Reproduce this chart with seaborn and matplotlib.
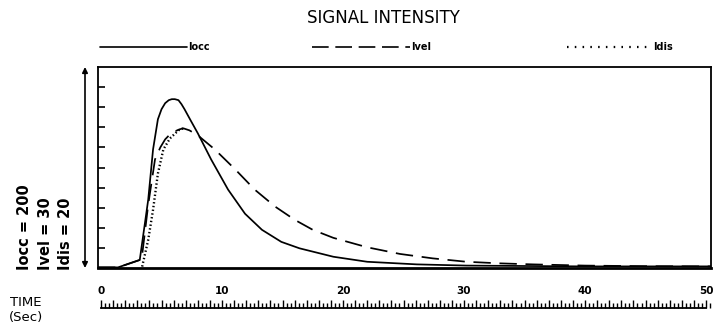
import matplotlib
matplotlib.use("Agg")
import matplotlib.pyplot as plt
from matplotlib.lines import Line2D
from matplotlib.ticker import MultipleLocator, FuncFormatter
import numpy as np
import pandas as pd
import seaborn as sns

# ---- data ----
time_occ = [-0.25, 1.4, 3.2, 3.9, 4.3, 4.7, 5.0, 5.3, 5.6, 5.85, 6.1, 6.4, 6.65, 6.9,
            7.4, 8.0, 9.1, 10.5, 11.9, 13.3, 14.9, 16.4, 19.2, 22.0, 26.1, 30.2, 35.0,
            40.0, 50.4]
iocc = [0.03, 0.03, 0.4, 3.4, 5.9, 7.4, 7.9, 8.2, 8.35, 8.4, 8.4, 8.35, 8.15, 7.9,
        7.35, 6.7, 5.4, 3.9, 2.7, 1.9, 1.3, 0.98, 0.56, 0.31, 0.18, 0.12, 0.1,
        0.08, 0.08]

time_vel = [-0.25, 1.4, 3.2, 3.35, 3.9, 4.46, 4.9, 5.3, 5.7, 6.1, 6.5, 6.8, 7.3,
            8.0, 9.4, 11.1, 12.7, 14.4, 16.0, 17.5, 19.2, 22.0, 24.7, 27.4, 30.2,
            33.0, 35.7, 40.0, 45.0, 50.4]
ivel = [0.03, 0.03, 0.4, 0.4, 3.15, 5.4, 6.0, 6.4, 6.65, 6.8, 6.9, 6.95, 6.85,
        6.6, 5.9, 4.9, 3.9, 3.05, 2.4, 1.9, 1.5, 1.03, 0.7, 0.48, 0.31,
        0.23, 0.18, 0.12, 0.09, 0.08]

time_dis = [3.4, 3.9, 4.3, 4.7, 5.15, 5.7, 6.4, 6.8]
idis = [0.07, 1.4, 2.9, 4.7, 5.9, 6.45, 6.85, 6.95]

series_names = ["Iocc", "Ivel", "Idis"]
series_scales = ["Iocc = 200", "Ivel = 30", "Idis = 20"]
time_ticks = [0, 10, 20, 30, 40, 50]
y_ticks = [1, 2, 3, 4, 5, 6, 7, 8, 9]

# ---- style ----
sns.set_style("white")
plt.rcParams["font.family"] = ["DejaVu Sans"]
plt.rcParams["text.color"] = "black"
plt.rcParams["xtick.color"] = "black"
plt.rcParams["ytick.color"] = "black"
plt.rcParams["axes.edgecolor"] = "black"

fig = plt.figure(figsize=(7.14, 3.28), dpi=100)
ax = fig.add_axes([98 / 714, 1 - 268 / 328, 613 / 714, 201 / 328])

df_occ = pd.DataFrame({"t": time_occ, "v": iocc})
df_vel = pd.DataFrame({"t": time_vel, "v": ivel})
df_dis = pd.DataFrame({"t": time_dis, "v": idis})

sns.lineplot(data=df_dis, x="t", y="v", ax=ax, color="black", lw=1.7,
             linestyle=(0, (0.6, 1.0)), sort=False)
sns.lineplot(data=df_vel, x="t", y="v", ax=ax, color="black", lw=1.25,
             linestyle=(0, (10, 5)), sort=False)
sns.lineplot(data=df_occ, x="t", y="v", ax=ax, color="black", lw=1.25, sort=False)

ax.set_xlim(-0.25, 50.41)
ax.set_ylim(0, 10)
ax.set_xticks([])
ax.set_yticks(y_ticks)
ax.set_yticklabels([])
ax.tick_params(axis="y", direction="in", length=5, width=1.2, left=True, color="black")
ax.set_xlabel("")
ax.set_ylabel("")
for s in ax.spines.values():
    s.set_visible(True)
    s.set_color("black")
    s.set_linewidth(1.3)
ax.spines["bottom"].set_linewidth(2.0)

# double arrow on the left
ax.annotate("", xy=(-13 / 613, 1.0), xytext=(-13 / 613, 0.0),
            xycoords="axes fraction", textcoords="axes fraction",
            arrowprops=dict(arrowstyle="<|-|>", color="black", lw=1.2,
                            mutation_scale=8, shrinkA=0, shrinkB=0),
            annotation_clip=False)

# rotated scale texts
for xpx, txt in zip([25, 45, 65], series_scales):
    fig.text(xpx / 714, 1 - 270 / 328, txt, rotation=90, ha="center", va="bottom",
             fontsize=10.5, fontweight="bold")

# title
fig.text(383 / 714, 1 - 18 / 328, "SIGNAL INTENSITY", ha="center", va="center",
         fontsize=12)

# legend drawn above the plot
ly = 1 - 47 / 328
leg_specs = [((100, 187), "-", 1.2, 188),
             ((312, 410), (0, (10, 4)), 1.2, 411),
             ((567, 652), (0, (0.7, 2.8)), 1.6, 653)]
for ((x0, x1), ls, lw, tx), name in zip(leg_specs, series_names):
    fig.add_artist(Line2D([x0 / 714, x1 / 714], [ly, ly], transform=fig.transFigure,
                          color="black", lw=lw, linestyle=ls))
    fig.text(tx / 714, ly, name, ha="left", va="center", fontsize=7, fontweight="bold")

# time ruler
rax = fig.add_axes([98 / 714, 1 - 308 / 328, 613 / 714, 9 / 328])
rax.set_xlim(-0.25, 50.41)
rax.set_ylim(0, 1)
rax.set_facecolor("none")
for k, s in rax.spines.items():
    s.set_visible(k == "bottom")
rax.spines["bottom"].set_bounds(0, 50)
rax.spines["bottom"].set_linewidth(1.3)
rax.spines["bottom"].set_color("black")
rax.set_yticks([])
rax.xaxis.set_major_locator(MultipleLocator(1))
rax.xaxis.set_minor_locator(MultipleLocator(1 / 3))
rax.xaxis.set_major_formatter(FuncFormatter(
    lambda v, p: f"{int(round(v))}" if int(round(v)) in time_ticks else ""))
rax.tick_params(axis="x", which="major", direction="in", length=6, width=1.0,
                bottom=True, top=False, labelbottom=False, labeltop=True,
                pad=2, labelsize=7.5, color="black")
rax.tick_params(axis="x", which="minor", direction="in", length=3.5, width=1.0,
                bottom=True, top=False, color="black")
for lab in rax.get_xticklabels():
    lab.set_fontweight("bold")

fig.text(10 / 714, 1 - 302 / 328, "TIME", ha="left", va="center", fontsize=9.5)
fig.text(9 / 714, 1 - 317 / 328, "(Sec)", ha="left", va="center", fontsize=9.5)

fig.savefig("out.png", dpi=100)
